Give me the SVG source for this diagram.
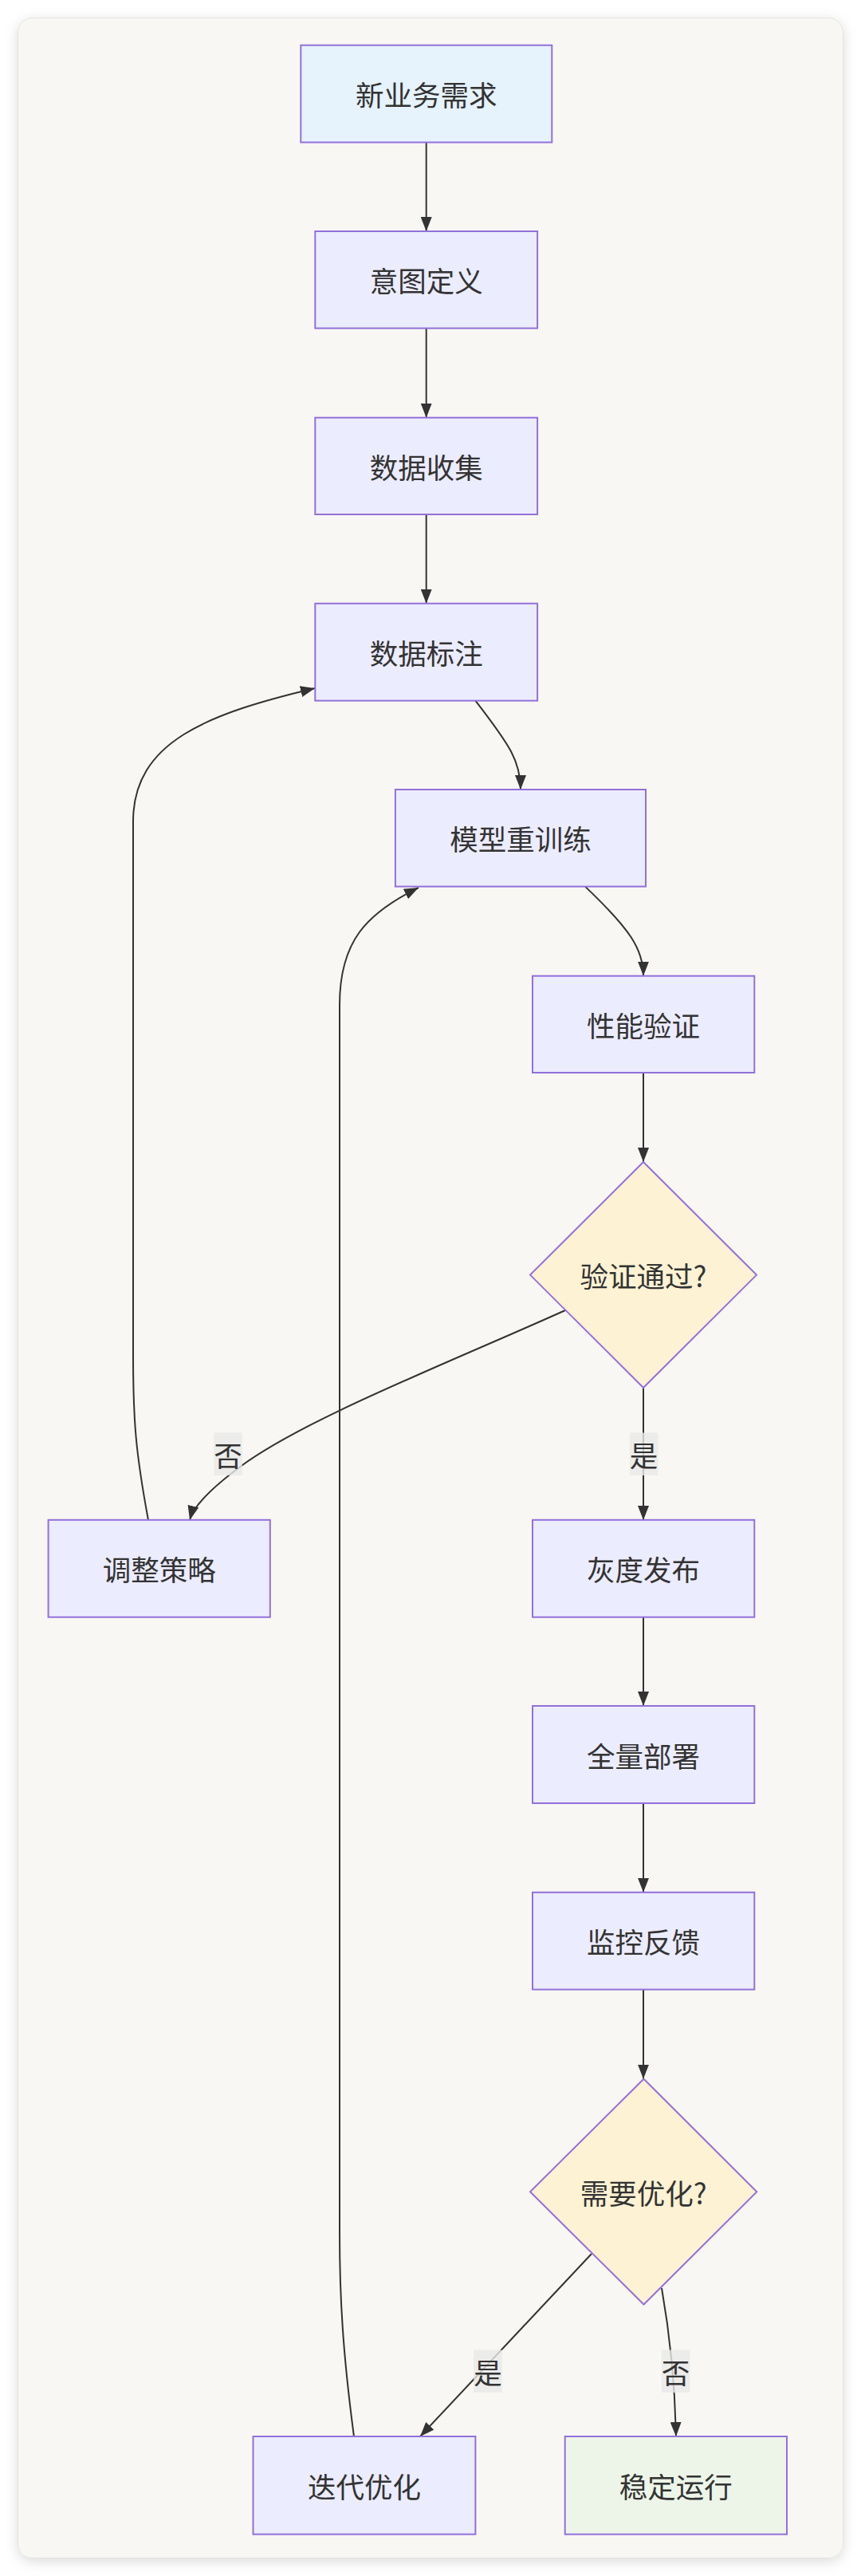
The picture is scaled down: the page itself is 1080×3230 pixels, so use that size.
<svg xmlns="http://www.w3.org/2000/svg" width="1080" height="3230" viewBox="0 0 1080 3230">
<defs>
<filter id="shadow" x="-10%" y="-5%" width="120%" height="110%">
<feDropShadow dx="0" dy="4" stdDeviation="8" flood-color="#000" flood-opacity="0.14"/>
</filter>
<marker id="arrow" viewBox="0 0 18 14" refX="18" refY="7" markerUnits="userSpaceOnUse" markerWidth="18" markerHeight="14" orient="auto">
<path d="M0,0 L18,7 L0,14 z" fill="#333333"/>
</marker>
<style>
.node rect, .node polygon { stroke: #9370DB; stroke-width: 2; }
.proc { fill: #ECECFF; }
.start { fill: #E6F2FC; }
.end { fill: #EDF5E9; }
.dec { fill: #FDF2D3; }
.label { font-family: "Noto Sans CJK SC", "Noto Sans", sans-serif; font-size: 35.5px; fill: #333333; text-anchor: middle; dominant-baseline: central; }
.edge { fill: none; stroke: #333333; stroke-width: 2; marker-end: url(#arrow); }
.elbg { fill: #E8E8E8; fill-opacity: 0.8; }
</style>
</defs>
<rect x="0" y="0" width="1080" height="3230" fill="#FFFFFF"/>
<rect x="22.5" y="22.5" width="1035" height="3185" rx="18" ry="18" fill="#F8F7F3" stroke="#E4E3DF" stroke-width="1" filter="url(#shadow)"/>

<g id="connectors">
<path class="edge" d="M534.7,178.5 L534.7,290"/>
<path class="edge" d="M534.7,411.6 L534.7,523.7"/>
<path class="edge" d="M534.7,645 L534.7,756.7"/>
<path class="edge" d="M596.4,878.6 C640,935 653,955 653,990"/>
<path class="edge" d="M734,1111.6 C790,1165 807,1190 807,1223.7"/>
<path class="edge" d="M807,1345 L807,1457"/>
<path class="edge" d="M709,1643 C560,1710 380,1780 300,1840 C260,1870 242,1890 238,1906"/>
<path class="edge" d="M807,1740 L807,1906"/>
<path class="edge" d="M186,1906 C170,1820 167,1780 167,1700 L167,1030 C167,930 260,895 395,863"/>
<path class="edge" d="M807,2028 L807,2139"/>
<path class="edge" d="M807,2261 L807,2372.8"/>
<path class="edge" d="M807,2494.6 L807,2606.7"/>
<path class="edge" d="M742,2826 L527,3055"/>
<path class="edge" d="M830,2869 Q846,2960 848,3055"/>
<path class="edge" d="M444,3055 C430,2950 426,2880 426,2800 L426,1260 C426,1180 460,1145 525,1113"/>
</g>

<g id="edge-labels">
<g id="label-no-1"><rect class="elbg" x="268.3" y="1796.5" width="35.5" height="53.5"/><text class="label" x="286" y="1823">否</text></g>
<g id="label-yes-1"><rect class="elbg" x="789.8" y="1796.5" width="35.5" height="53.5"/><text class="label" x="807.5" y="1823">是</text></g>
<g id="label-yes-2"><rect class="elbg" x="594.2" y="2946.5" width="35.5" height="53.5"/><text class="label" x="612" y="2973">是</text></g>
<g id="label-no-2"><rect class="elbg" x="829.8" y="2946.5" width="35.5" height="53.5"/><text class="label" x="847.5" y="2973">否</text></g>
</g>

<g id="n-xinyewu" class="node"><rect class="start" x="377.3" y="56.7" width="315" height="121.8"/><text class="label" x="534.7" y="117.6">新业务需求</text></g>
<g id="n-yitu" class="node"><rect class="proc" x="395.3" y="290" width="278.8" height="121.6"/><text class="label" x="534.7" y="350.8">意图定义</text></g>
<g id="n-shouji" class="node"><rect class="proc" x="395.3" y="523.7" width="278.8" height="121.3"/><text class="label" x="534.7" y="584.4">数据收集</text></g>
<g id="n-biaozhu" class="node"><rect class="proc" x="395.3" y="756.7" width="278.8" height="121.9"/><text class="label" x="534.7" y="817.6">数据标注</text></g>
<g id="n-xunlian" class="node"><rect class="proc" x="495.9" y="990" width="314.1" height="121.6"/><text class="label" x="653" y="1050.8">模型重训练</text></g>
<g id="n-yanzheng" class="node"><rect class="proc" x="668" y="1223.7" width="278.3" height="121.3"/><text class="label" x="807.1" y="1284.4">性能验证</text></g>
<g id="n-tongguo" class="node"><polygon class="dec" points="807,1457 949,1598.6 807,1740 665,1598.6"/><text class="label" x="807" y="1598.6">验证通过?</text></g>
<g id="n-tiaozheng" class="node"><rect class="proc" x="60.6" y="1905.8" width="278.2" height="121.9"/><text class="label" x="199.7" y="1966.8">调整策略</text></g>
<g id="n-huidu" class="node"><rect class="proc" x="668" y="1905.8" width="278.3" height="121.9"/><text class="label" x="807.1" y="1966.8">灰度发布</text></g>
<g id="n-bushu" class="node"><rect class="proc" x="668" y="2139" width="278.3" height="122"/><text class="label" x="807.1" y="2200">全量部署</text></g>
<g id="n-jiankong" class="node"><rect class="proc" x="668" y="2372.8" width="278.3" height="121.8"/><text class="label" x="807.1" y="2433.7">监控反馈</text></g>
<g id="n-youhua" class="node"><polygon class="dec" points="807.5,2606.7 949.3,2748.3 807.5,2889.5 665,2748.3"/><text class="label" x="807.2" y="2748.3">需要优化?</text></g>
<g id="n-diedai" class="node"><rect class="proc" x="317.5" y="3055" width="278.9" height="122.7"/><text class="label" x="457" y="3116.3">迭代优化</text></g>
<g id="n-wending" class="node"><rect class="end" x="708.7" y="3055" width="278.3" height="122.7"/><text class="label" x="847.8" y="3116.3">稳定运行</text></g>
</svg>
